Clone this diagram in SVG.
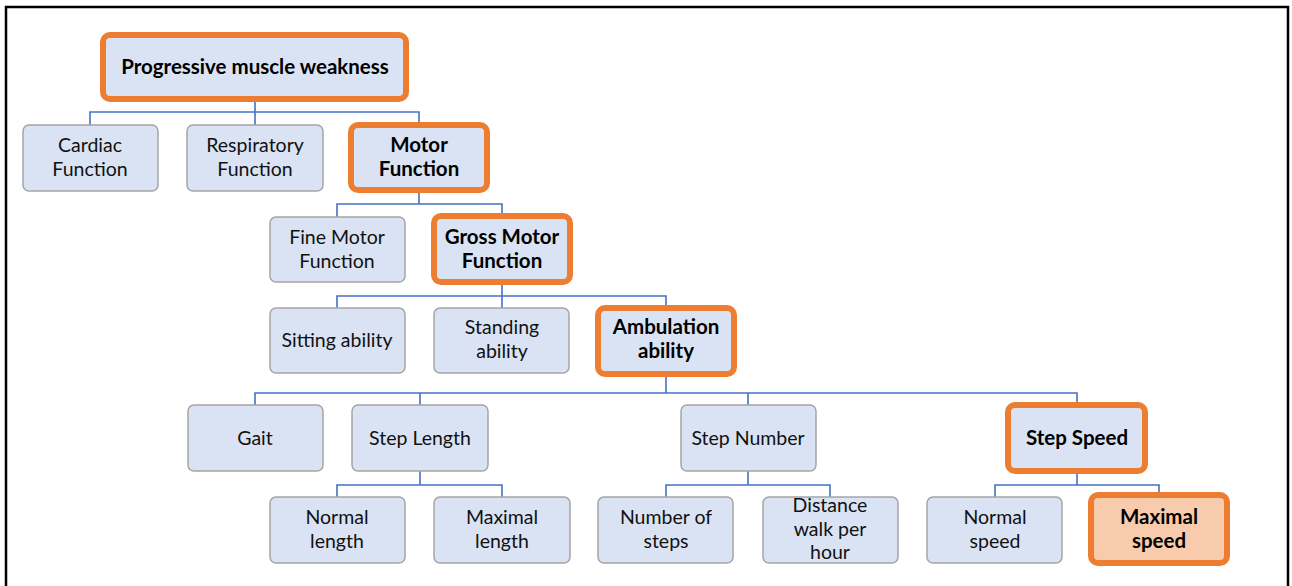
<svg xmlns="http://www.w3.org/2000/svg" width="1292" height="586" viewBox="0 0 1292 586">
<style>
.box{fill:#DAE3F3;stroke:#A5A5A5;stroke-width:1.5}
.hl{fill:#DAE3F3;stroke:#ED7D31;stroke-width:6}
.hl2{fill:#F8CBAD;stroke:#ED7D31;stroke-width:6}
.t{font-family:Lato,"Open Sans",sans-serif;font-size:19.5px;fill:#111;text-anchor:middle}
.b{font-weight:bold;font-size:20.5px;fill:#000}
.c{fill:none;stroke:#4472C4;stroke-width:1.6}
</style>
<rect width="1292" height="586" fill="#fff"/>
<path d="M6,586 V7 H1288 V586" fill="none" stroke="#000" stroke-width="2.5"/>
<g id="connectors">
<path class="c" d="M255,99 V112 M90,125 V112 H419 V125 M255,112 V125"/>
<path class="c" d="M419,190 V204 M337,217 V204 H502 V216"/>
<path class="c" d="M502,282 V296 M337,308 V296 H666 V308 M502,296 V308"/>
<path class="c" d="M666,374 V393 M255,405 V393 H1077 V405 M420,393 V405 M748,393 V405"/>
<path class="c" d="M420,471 V485 M337,497 V485 H502 V497"/>
<path class="c" d="M748,471 V485 M666,497 V485 H830 V497"/>
<path class="c" d="M1077,471 V485 M995,497 V485 H1159 V495"/>
</g>
<g id="n-pmw"><rect class="hl" x="103" y="35" width="303" height="64" rx="7"/><text class="t b" x="255" y="74">Progressive muscle weakness</text></g>
<g id="n-cardiac"><rect class="box" x="23" y="125" width="135" height="66" rx="6"/><text class="t" x="90" y="152">Cardiac</text><text class="t" x="90" y="176">Function</text></g>
<g id="n-resp"><rect class="box" x="187" y="125" width="136" height="66" rx="6"/><text class="t" x="255" y="152">Respiratory</text><text class="t" x="255" y="176">Function</text></g>
<g id="n-motor"><rect class="hl" x="351" y="125" width="136" height="65" rx="7"/><text class="t b" x="419" y="152">Motor</text><text class="t b" x="419" y="176">Function</text></g>
<g id="n-fine"><rect class="box" x="270" y="217" width="135" height="65" rx="6"/><text class="t" x="337" y="244">Fine Motor</text><text class="t" x="337" y="268">Function</text></g>
<g id="n-gross"><rect class="hl" x="434" y="216" width="136" height="66" rx="7"/><text class="t b" x="502" y="244">Gross Motor</text><text class="t b" x="502" y="268">Function</text></g>
<g id="n-sitting"><rect class="box" x="270" y="308" width="135" height="65" rx="6"/><text class="t" x="337" y="347">Sitting ability</text></g>
<g id="n-standing"><rect class="box" x="434" y="308" width="135" height="65" rx="6"/><text class="t" x="502" y="334">Standing</text><text class="t" x="502" y="358">ability</text></g>
<g id="n-amb"><rect class="hl" x="598" y="308" width="136" height="66" rx="7"/><text class="t b" x="666" y="334">Ambulation</text><text class="t b" x="666" y="358">ability</text></g>
<g id="n-gait"><rect class="box" x="188" y="405" width="135" height="66" rx="6"/><text class="t" x="255" y="445">Gait</text></g>
<g id="n-steplen"><rect class="box" x="352" y="405" width="136" height="66" rx="6"/><text class="t" x="420" y="445">Step Length</text></g>
<g id="n-stepnum"><rect class="box" x="681" y="405" width="135" height="66" rx="6"/><text class="t" x="748" y="445">Step Number</text></g>
<g id="n-stepspeed"><rect class="hl" x="1008" y="405" width="137" height="66" rx="7"/><text class="t b" x="1077" y="445">Step Speed</text></g>
<g id="n-normlen"><rect class="box" x="270" y="497" width="135" height="66" rx="6"/><text class="t" x="337" y="524">Normal</text><text class="t" x="337" y="548">length</text></g>
<g id="n-maxlen"><rect class="box" x="434" y="497" width="136" height="66" rx="6"/><text class="t" x="502" y="524">Maximal</text><text class="t" x="502" y="548">length</text></g>
<g id="n-numsteps"><rect class="box" x="598" y="497" width="135" height="66" rx="6"/><text class="t" x="666" y="524">Number of</text><text class="t" x="666" y="548">steps</text></g>
<g id="n-dist"><rect class="box" x="763" y="497" width="135" height="66" rx="6"/><text class="t" x="830" y="512">Distance</text><text class="t" x="830" y="536">walk per</text><text class="t" x="830" y="559">hour</text></g>
<g id="n-normspeed"><rect class="box" x="927" y="497" width="135" height="66" rx="6"/><text class="t" x="995" y="524">Normal</text><text class="t" x="995" y="548">speed</text></g>
<g id="n-maxspeed"><rect class="hl2" x="1091" y="495" width="136" height="68" rx="7"/><text class="t b" x="1159" y="524">Maximal</text><text class="t b" x="1159" y="548">speed</text></g>
</svg>
